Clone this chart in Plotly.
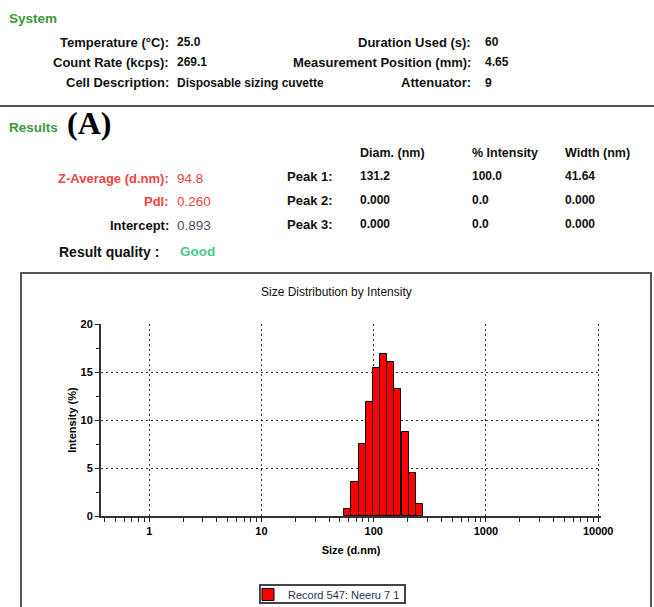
import numpy as np
import plotly.graph_objects as go

# ---- data ----
sizes_nm = [58.77, 68.06, 78.82, 91.28, 105.7, 122.4, 141.8, 164.2, 190.1, 220.2, 255.0]
intensity_pct = [0.7, 3.5, 7.5, 11.9, 15.4, 16.9, 16.0, 13.2, 8.8, 4.5, 1.3]
major_ticks = [1, 10, 100, 1000, 10000]
major_labels = ["1", "10", "100", "1000", "10000"]
y_ticks = [0, 5, 10, 15, 20]
y_minor = [2.5, 7.5, 12.5, 17.5]
series_name = "Record 547: Neeru 7 1"

system_rows = [
    ("Temperature (°C):", "25.0", "Duration Used (s):", "60"),
    ("Count Rate (kcps):", "269.1", "Measurement Position (mm):", "4.65"),
    ("Cell Description:", "Disposable sizing cuvette", "Attenuator:", "9"),
]
peak_header = ["Diam. (nm)", "% Intensity", "Width (nm)"]
peak_rows = [
    ("Peak 1:", "131.2", "100.0", "41.64"),
    ("Peak 2:", "0.000", "0.0", "0.000"),
    ("Peak 3:", "0.000", "0.0", "0.000"),
]
result_rows = [
    ("Z-Average (d.nm):", "94.8"),
    ("PdI:", "0.260"),
    ("Intercept:", "0.893"),
]

# ---- geometry helpers (pixel -> paper) ----
W, H = 654, 607
L, R, T, B = 101, 601, 324, 516
def px(x):
    return (x - L) / (R - L)
def py(y):
    return (B - y) / (B - T)

bin_w = np.log10(25000) / 70.0
xlog = np.log10(sizes_nm)
x_range = [-0.43, 4.025]
minor_vals = [np.log10(k * 10.0 ** d) for d in range(-1, 4) for k in range(2, 10)
              if x_range[0] < np.log10(k * 10.0 ** d) < x_range[1]]
major_vals = [np.log10(v) for v in major_ticks]

FONT = "Arial, Liberation Sans, sans-serif"

fig = go.Figure()
fig.add_trace(go.Bar(
    x=xlog, y=intensity_pct, width=bin_w, name=series_name,
    marker=dict(color="#ff0000", line=dict(color="#000000", width=1)),
    showlegend=True,
))

fig.update_layout(
    width=W, height=H,
    margin=dict(l=L, r=W - R, t=T, b=H - B, pad=0, autoexpand=False),
    paper_bgcolor="white", plot_bgcolor="white",
    font=dict(family=FONT, color="#000"),
    bargap=0,
    showlegend=True,
    legend=dict(
        orientation="h", x=px(248), xanchor="left", y=py(580), yanchor="top",
        borderwidth=0, bgcolor="rgba(0,0,0,0)",
        font=dict(family=FONT, size=11, color="#2a3550"),
        itemwidth=30,
    ),
    xaxis=dict(
        range=x_range, showgrid=True, gridcolor="#333", gridwidth=1.3, griddash="2px,3px",
        tickvals=major_vals, ticktext=major_labels, ticks="outside", ticklen=4,
        tickcolor="#222", tickwidth=1.3,
        minor=dict(tickvals=minor_vals, ticks="outside", ticklen=4, tickcolor="#222",
                   tickwidth=1.3, showgrid=False),
        showline=True, linecolor="#333", linewidth=2, zeroline=False,
        tickfont=dict(family=FONT, size=11, color="#000", weight="bold"),
        title=dict(text="Size (d.nm)", standoff=10,
                   font=dict(family=FONT, size=11, color="#000", weight="bold")),
        fixedrange=True,
    ),
    yaxis=dict(
        range=[0, 20], showgrid=True, gridcolor="#333", gridwidth=1.3, griddash="2px,3px",
        tickvals=y_ticks, ticks="outside", ticklen=4, tickcolor="#222", tickwidth=1.3,
        minor=dict(tickvals=y_minor, ticks="outside", ticklen=3, tickcolor="#222",
                   tickwidth=1.3, showgrid=False),
        showline=True, linecolor="#333", linewidth=2, zeroline=False,
        tickfont=dict(family=FONT, size=11, color="#000", weight="bold"),
        title=dict(text="Intensity (%)", standoff=2,
                   font=dict(family=FONT, size=11, color="#000", weight="bold")),
        fixedrange=True,
    ),
    xaxis2=dict(
        overlaying="x", anchor="y", side="bottom", range=x_range,
        tickvals=major_vals + minor_vals, ticks="inside", ticklen=3, tickcolor="#222",
        tickwidth=1.3, showticklabels=False, showgrid=False, zeroline=False, showline=False,
    ),
    yaxis2=dict(
        overlaying="y", anchor="x", side="left", range=[0, 20],
        tickvals=y_ticks + y_minor, ticks="inside", ticklen=3, tickcolor="#222",
        tickwidth=1.3, showticklabels=False, showgrid=False, zeroline=False, showline=False,
    ),
)

shapes = []
# chart panel frame
shapes.append(dict(type="rect", xref="paper", yref="paper",
                   x0=px(21), x1=px(651), y0=py(273), y1=py(612),
                   line=dict(color="#555", width=2), fillcolor="rgba(0,0,0,0)", layer="below"))
# legend frame
shapes.append(dict(type="rect", xref="paper", yref="paper",
                   x0=px(260), x1=px(405), y0=py(585), y1=py(603),
                   line=dict(color="#444", width=2), fillcolor="white", layer="below"))
# separator line
shapes.append(dict(type="line", xref="paper", yref="paper",
                   x0=px(0), x1=px(654), y0=py(106), y1=py(106),
                   line=dict(color="#555", width=2)))
fig.update_layout(shapes=shapes)

ann = []
def text(x, y, s, size=13, color="#111", anchor="left", bold=True, family=FONT):
    ann.append(dict(xref="paper", yref="paper", x=px(x), y=py(y), text=s,
                    showarrow=False, xanchor=anchor, yanchor="middle",
                    font=dict(family=family, size=size, color=color,
                              weight="bold" if bold else "normal")))

GREEN = "#3a9a3a"
VAL = 12
text(7, 18, "System", size=13.5, color=GREEN)
row_y = [42, 62, 83]
for (l1, v1, l2, v2), yy in zip(system_rows, row_y):
    text(171, yy, l1, anchor="right")
    text(175, yy, v1, size=VAL)
    text(473, yy, l2, anchor="right")
    text(483, yy, v2, size=VAL)

text(7, 128, "Results", size=13.5, color=GREEN)
text(65, 123, "(A)", size=32, color="#000", family="Liberation Serif, Times New Roman, serif")

hdr_x = [358, 470, 563]
for s, xx in zip(peak_header, hdr_x):
    text(xx, 153, s, size=12.5)

res_colors = [("#ee4444", "#ee4444"), ("#ee4444", "#ee4444"), ("#111", "#4a5068")]
res_y = [178, 201, 225]
for (lab, val), (c1, c2), yy in zip(result_rows, res_colors, res_y):
    text(171, yy, lab, color=c1, anchor="right")
    text(175, yy, val, color=c2, bold=False, size=13.5)

peak_y = [176, 200, 224]
for (lab, a, b, c), yy in zip(peak_rows, peak_y):
    text(285, yy, lab)
    text(358, yy, a, size=VAL)
    text(470, yy, b, size=VAL)
    text(563, yy, c, size=VAL)

text(161, 252, "Result quality :", size=14, anchor="right")
text(178, 251, "Good", size=13.5, color="#44cc88")

text(336, 292, "Size Distribution by Intensity", size=12, color="#111", anchor="center", bold=False)

fig.update_layout(annotations=ann)

fig.write_html("out.html", config={"displayModeBar": False},
               post_script="document.body.style.margin='0px';")
